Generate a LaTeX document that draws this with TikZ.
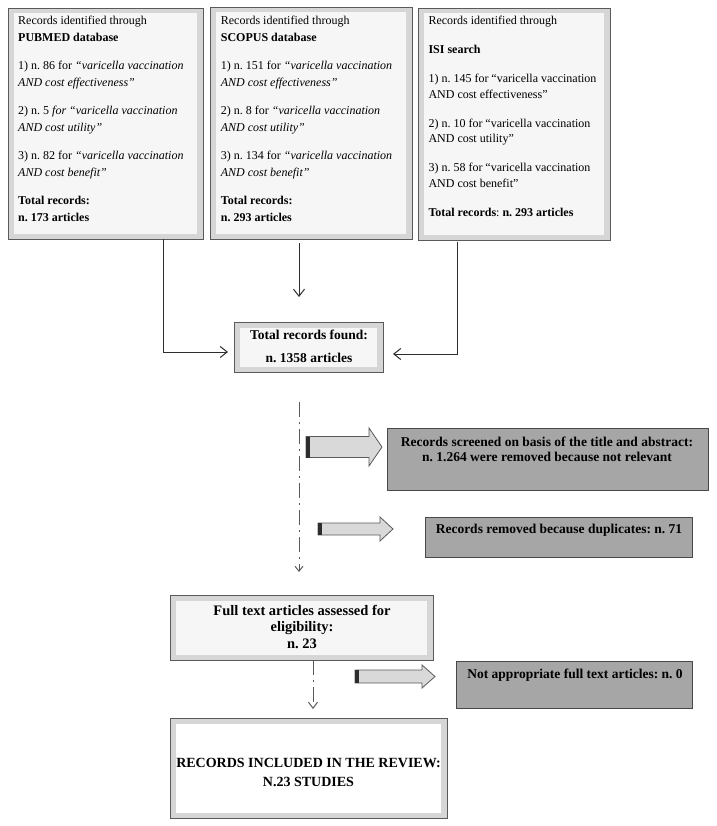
\documentclass[tikz,border=0pt]{standalone}
\usepackage{fontspec}
\setmainfont{Liberation Serif}
\usetikzlibrary{arrows.meta,calc}
\definecolor{edge}{HTML}{5A5A5A}
\definecolor{framegray}{HTML}{D6D6D6}
\definecolor{innerfill}{HTML}{F6F6F6}
\definecolor{boxgray}{HTML}{A6A6A6}
\definecolor{arrowfill}{HTML}{D9D9D9}
\definecolor{linecol}{HTML}{2E2E2E}
\newcommand\blockarr[6]{%
  \draw[barrow] (#1,{#4-#5}) -- (#3,{#4-#5}) -- (#3,{#4-#6}) -- (#2,#4) -- (#3,{#4+#6}) -- (#3,{#4+#5}) -- (#1,{#4+#5}) -- cycle;
  \fill[edge!50!black] (#1,{#4-#5}) rectangle ({#1+4},{#4+#5});}
\tikzset{
  framed/.style={draw=edge, line width=0.9pt, fill=framegray, inner sep=0pt, outer sep=0pt,
    path picture={\fill[innerfill] ([xshift=6pt,yshift=-5.5pt]path picture bounding box.north west) rectangle ([xshift=-6pt,yshift=5.5pt]path picture bounding box.south east);}},
  graybox/.style={draw=edge!80!black, line width=0.9pt, fill=boxgray, inner sep=0pt, outer sep=0pt},
  toptext/.style={anchor=north west, inner sep=0pt, align=left},
  boldtext/.style={inner sep=0pt, align=center, font=\bfseries\fontsize{13.5}{15}\selectfont},
  conn/.style={draw=linecol, line width=1pt, -{Straight Barb[length=7pt,width=11pt]}},
  dashdot/.style={draw=edge, line width=1pt, dash pattern=on 15pt off 5pt on 2pt off 5pt, -{Straight Barb[length=5pt,width=8pt]}},
  barrow/.style={draw=edge, line width=0.8pt, fill=arrowfill, line join=miter},
}
\begin{document}
\frenchspacing
\begin{tikzpicture}[x=1pt,y=-1pt]
\useasboundingbox[fill=white] (0,0) rectangle (716,826);

% top boxes
\node[framed, minimum width=195pt, minimum height=231pt] (pub) at (105.5,123.5) {};
\node[toptext, font=\fontsize{12}{17}\selectfont] (pubt) at (18,16) {Records identified through\\
\textbf{PUBMED database}\\[11pt]
1) n. 86 for \textit{“varicella vaccination}\\
\textit{AND cost effectiveness”}\\[11pt]
2) n. 5 \textit{for “varicella vaccination}\\
\textit{AND cost utility”}\\[11pt]
3) n. 82 for \textit{“varicella vaccination}\\
\textit{AND cost benefit”}\\[11pt]
\textbf{Total records:}\\
\textbf{n. 173 articles}};

\node[framed, minimum width=202pt, minimum height=232pt] (scop) at (311,123) {};
\node[toptext, font=\fontsize{12}{17}\selectfont] (scopt) at (220.7,16) {Records identified through\\
\textbf{SCOPUS database}\\[11pt]
1) n. 151 for \textit{“varicella vaccination}\\
\textit{AND cost effectiveness”}\\[11pt]
2) n. 8 for \textit{“varicella vaccination}\\
\textit{AND cost utility”}\\[11pt]
3) n. 134 for \textit{“varicella vaccination}\\
\textit{AND cost benefit”}\\[11pt]
\textbf{Total records:}\\
\textbf{n. 293 articles}};

\node[framed, minimum width=192pt, minimum height=232pt] (isi) at (514,124) {};
\node[toptext, font=\fontsize{12}{15.5}\selectfont] (isit) at (428.3,16) {Records identified through\\[13.5pt]
\textbf{ISI search}\\[13.5pt]
1) n. 145 for “varicella vaccination\\
AND cost effectiveness”\\[13.5pt]
2) n. 10 for “varicella vaccination\\
AND cost utility”\\[13.5pt]
3) n. 58 for “varicella vaccination\\
AND cost benefit”\\[13.5pt]
\textbf{Total records}: \textbf{n. 293 articles}};

% total box
\node[framed, minimum width=149pt, minimum height=50pt] (tot) at (308.5,347) {};
\node[inner sep=0pt, align=center, font=\bfseries\fontsize{13.5}{23}\selectfont] (tott) at (309,346.5) {Total records found:\\ n. 1358 articles};

% connectors to total
\draw[conn] ([xshift=57.5pt]pub.south) |- ([xshift=-6pt,yshift=-5pt]tot.west);
\draw[conn] ([xshift=-12pt,yshift=-4pt]scop.south) -- ([xshift=-9.5pt,yshift=25pt]tot.north);
\draw[conn] ([xshift=-57pt,yshift=-2pt]isi.south) |- ([xshift=10pt,yshift=-7pt]tot.east);

% gray boxes
\node[graybox, minimum width=321pt, minimum height=62pt] (g1) at (547.5,459) {};
\node[boldtext] (g1t) at (547,449.5) {Records screened on basis of the title and abstract:\\ n. 1.264 were removed because not relevant};
\node[graybox, minimum width=267pt, minimum height=40pt] (g2) at (558.5,537) {};
\node[boldtext] (g2t) at (559,530) {Records removed because duplicates: n. 71};
\node[graybox, minimum width=236pt, minimum height=47pt] (g3) at (574,684.5) {};
\node[boldtext] (g3t) at (575,675) {Not appropriate full text articles: n. 0};

% block arrows
\blockarr{306}{382}{369}{447}{10.5}{19}
\blockarr{318}{393}{380}{529}{6}{12}
\blockarr{355}{435}{422}{676.5}{6.5}{11.5}

% full text box
\node[framed, minimum width=263pt, minimum height=65pt] (full) at (301.5,627.5) {};
\node[inner sep=0pt, align=center, font=\bfseries\fontsize{14.5}{16.5}\selectfont] (fullt) at (302,626.5) {Full text articles assessed for\\ eligibility:\\ n. 23};

% final box
\node[framed, minimum width=277pt, minimum height=100pt, path picture={\fill[white] ([xshift=6pt,yshift=-5.5pt]path picture bounding box.north west) rectangle ([xshift=-6pt,yshift=5.5pt]path picture bounding box.south east);}] (fin) at (308.5,768) {};
\node[inner sep=0pt, align=center, font=\bfseries\fontsize{14}{18.5}\selectfont] (fint) at (308.5,772.5) {RECORDS INCLUDED IN THE REVIEW:\\ N.23 STUDIES};

% dash-dot flow lines
\coordinate (d1s) at (299,402);
\coordinate (d1e) at (299,572);
\draw[dashdot] (d1s) -- (d1e);
\coordinate (d2s) at (313,660);
\coordinate (d2e) at (313,709);
\draw[dashdot, -{Straight Barb[length=6pt,width=9pt]}] (d2s) -- (d2e);
\end{tikzpicture}
\end{document}
